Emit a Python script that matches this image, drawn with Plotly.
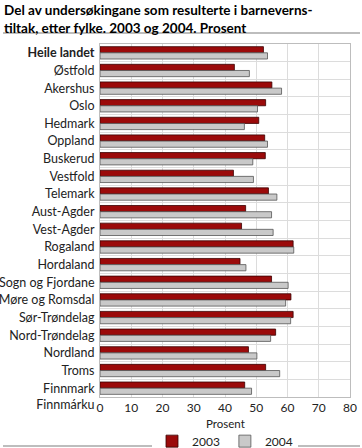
import plotly.graph_objects as go

categories = ["Heile landet", "Østfold", "Akershus", "Oslo", "Hedmark", "Oppland", "Buskerud",
              "Vestfold", "Telemark", "Aust-Agder", "Vest-Agder", "Rogaland", "Hordaland",
              "Sogn og Fjordane", "Møre og Romsdal", "Sør-Trøndelag", "Nord-Trøndelag",
              "Nordland", "Troms", "Finnmark Finnmárku"]
tick_labels = ["<b>Heile landet</b>"] + categories[1:-1] + ["<br>Finnmark<br>Finnmárku"]
v2003 = [52.3, 43.0, 55.0, 53.0, 50.8, 52.7, 52.9, 42.7, 53.9, 46.6, 45.3, 61.8, 44.8,
         54.9, 61.1, 61.8, 56.2, 47.5, 53.0, 46.3]
v2004 = [53.6, 47.8, 58.1, 50.4, 46.2, 53.6, 48.9, 49.1, 56.6, 54.9, 55.4, 62.0, 46.7,
         60.2, 59.4, 61.0, 54.6, 50.2, 57.5, 48.5]
x_ticks = [0, 10, 20, 30, 40, 50, 60, 70, 80]

font = "Lato"
fig = go.Figure()
fig.add_trace(go.Bar(y=categories, x=v2003, orientation="h", name="2003",
                     marker=dict(color="#9b0a0a", line=dict(color="#3a0000", width=0.8))))
fig.add_trace(go.Bar(y=categories, x=v2004, orientation="h", name="2004",
                     marker=dict(color="#c9c9c9", line=dict(color="#555555", width=0.8))))

fig.update_layout(
    width=362, height=448,
    margin=dict(l=100, r=12, t=44, b=51, autoexpand=False),
    paper_bgcolor="white", plot_bgcolor="white",
    barmode="group", bargap=0.3, bargroupgap=0,
    font=dict(family=font, size=12, color="#222222"),
    legend=dict(orientation="h", x=0.5, xanchor="center", y=-0.125, yanchor="middle",
                font=dict(size=12), traceorder="normal", itemwidth=30,
                tracegroupgap=0),
    xaxis=dict(range=[0, 80], tickvals=x_ticks, showgrid=True, gridcolor="#dcdcdc", gridwidth=1,
               showline=True, linecolor="#bdbdbd", mirror=True, zeroline=False,
               ticks="", tickfont=dict(size=12), automargin=False),
    yaxis=dict(autorange="reversed", tickvals=categories, ticktext=tick_labels,
               tickson="boundaries", showgrid=True, gridcolor="#dcdcdc", ticks="",
               showline=True, linecolor="#bdbdbd", mirror=True, ticklabelstandoff=2,
               tickfont=dict(size=12.5), automargin=False),
)
fig.add_annotation(text="Prosent", xref="paper", yref="paper", x=0.5, y=-0.074,
                   xanchor="center", yanchor="middle", showarrow=False,
                   font=dict(family=font, size=11.5, color="#222222"))
fig.add_annotation(text="<b>Del av undersøkingane som resulterte i barneverns-<br>tiltak, etter fylke. 2003 og 2004. Prosent</b>",
                   xref="paper", yref="paper", x=-0.392, y=1.125, xanchor="left", yanchor="top",
                   align="left", showarrow=False,
                   font=dict(family=font, size=13.5, color="#000000"))
fig.add_shape(type="line", xref="paper", yref="paper", x0=-0.388, x1=1.04, y0=1.031, y1=1.031,
              line=dict(color="#bdbdbd", width=2))
fig.add_shape(type="line", xref="paper", yref="paper", x0=-0.388, x1=1.04, y0=-0.139, y1=-0.139,
              line=dict(color="#bdbdbd", width=2))
fig.write_html("out.html", config={"displayModeBar": False},
               post_script="document.body.style.margin='0';document.body.style.overflow='hidden';")
